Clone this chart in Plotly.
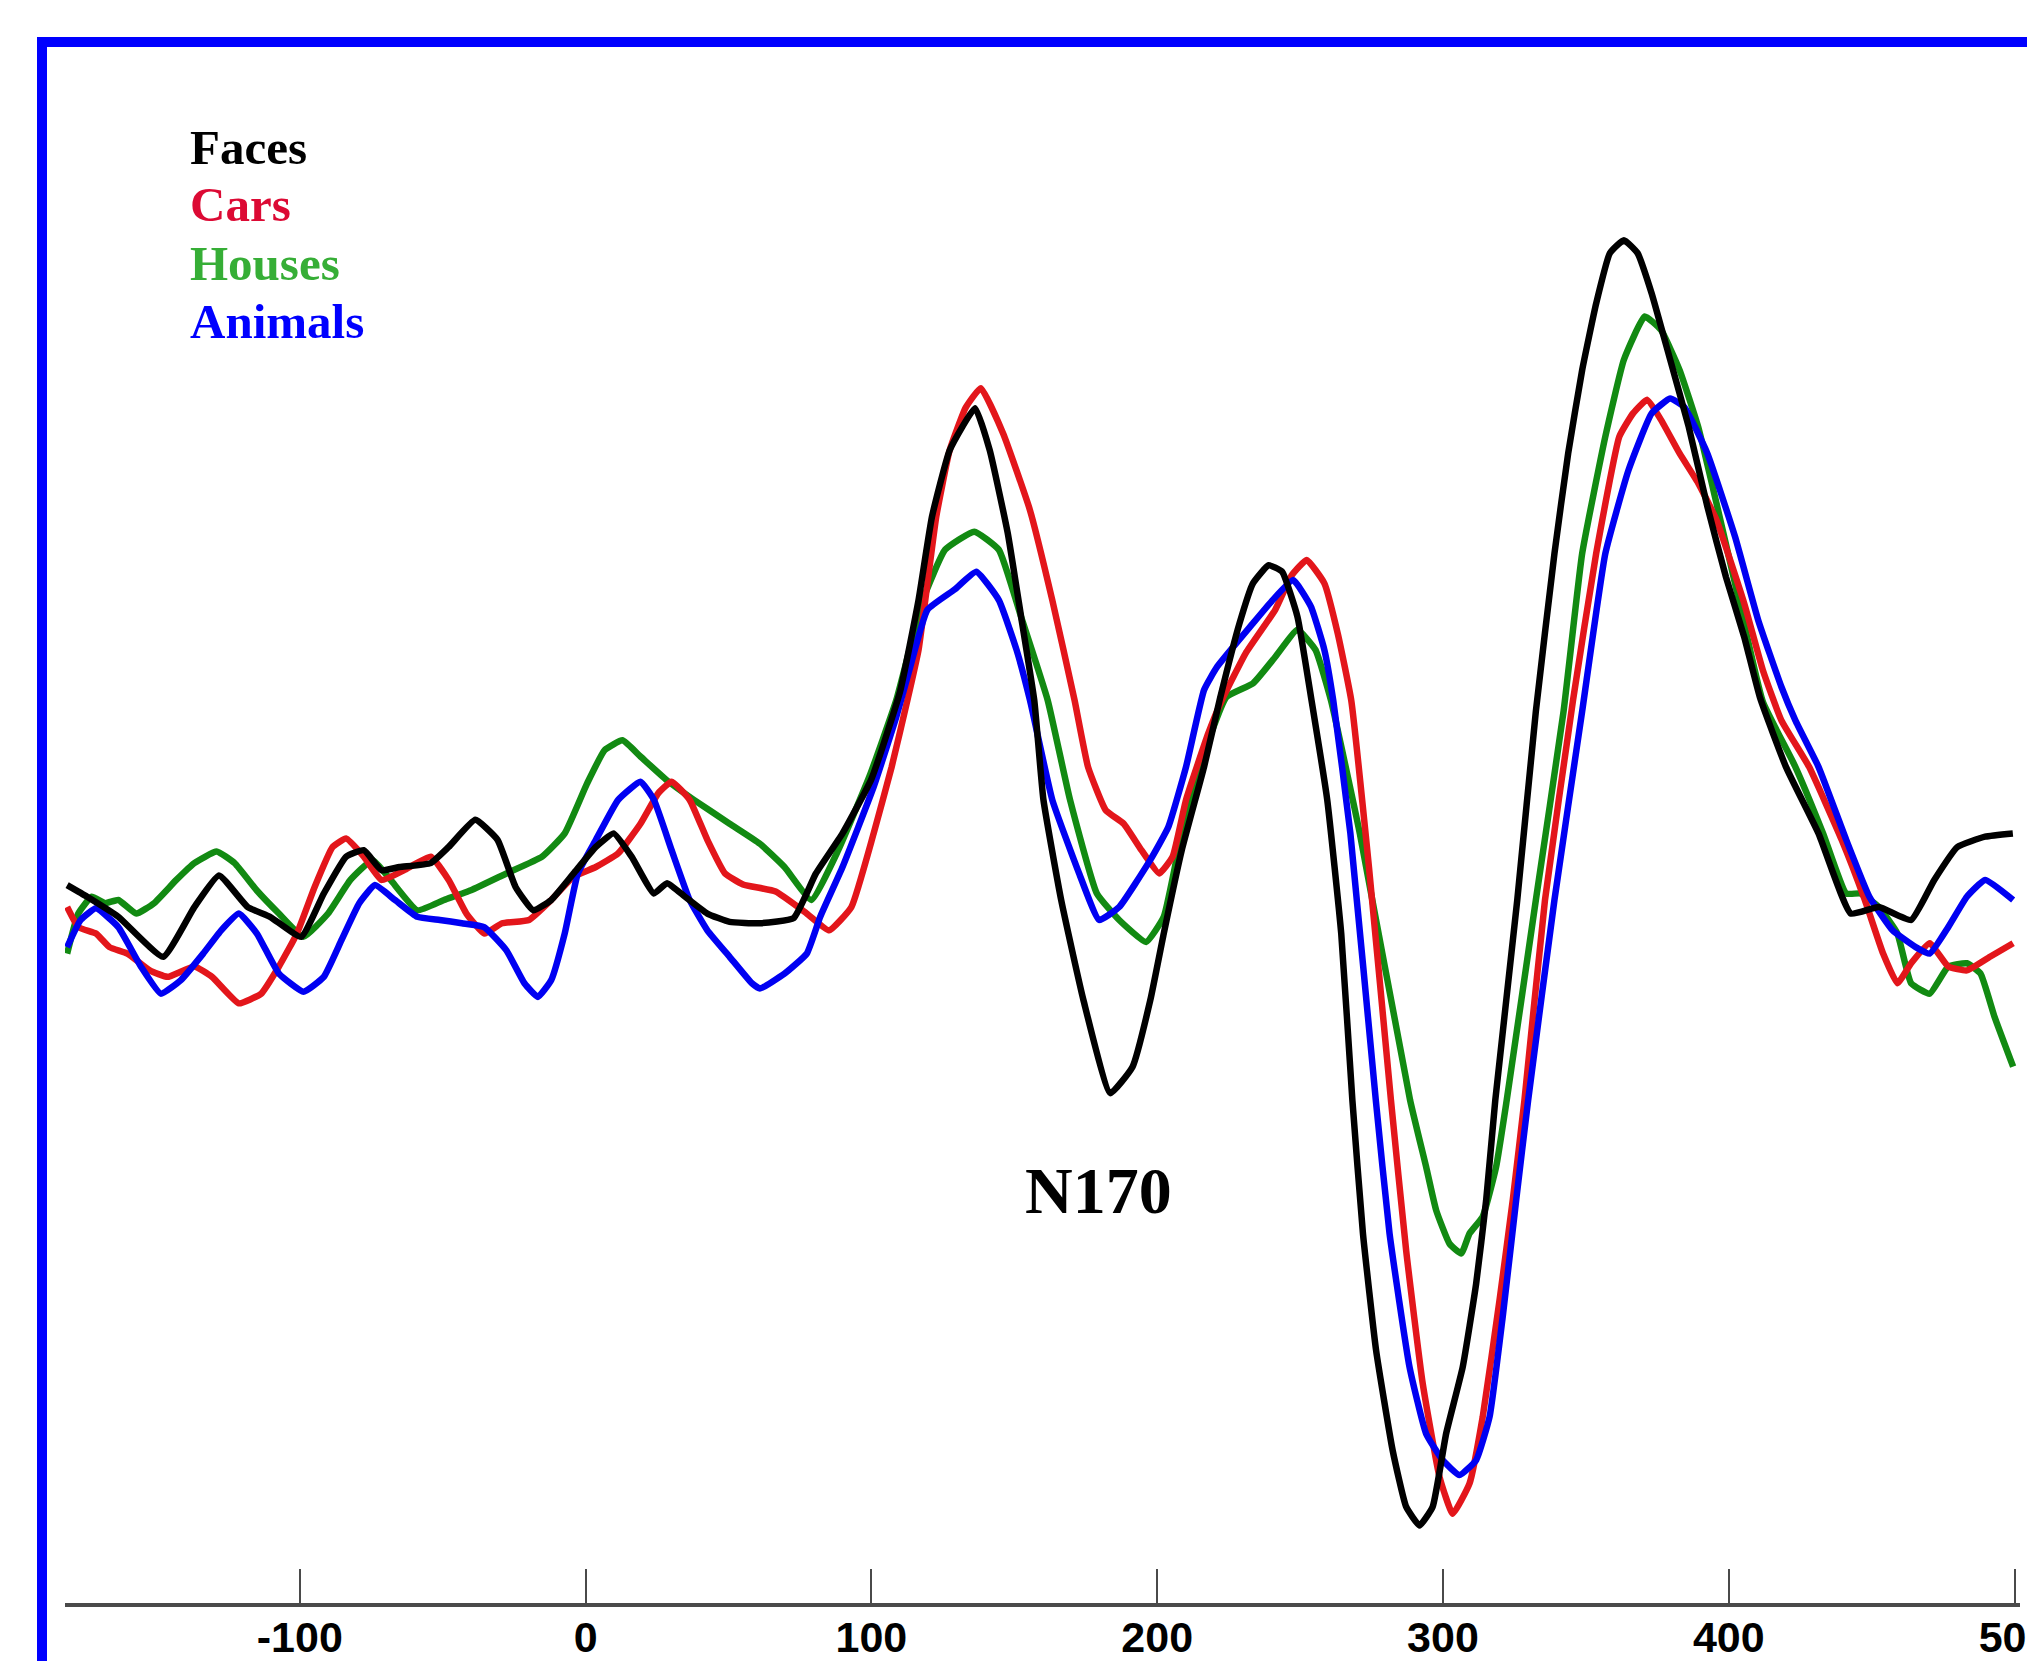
import plotly.graph_objects as go

# ---------------- data (time in ms, amplitude in µV) ----------------
faces_t = [-181.4, -174.4, -163.5, -147.8, -136.9, -128.3, -118.2, -110.4, -99.5, -91.6,
           -83.8, -77.6, -71.4, -65.1, -54.2, -47.9, -38.6, -30.8, -24.5, -18.3,
           -12.0, -4.2, 3.6, 9.8, 16.1, 23.9, 28.5, 34.8, 42.6, 50.4,
           61.0, 72.8, 80.6, 89.9, 100.0, 110.0, 116.5, 121.2, 127.4, 136.3,
           141.4, 147.7, 152.4, 157.0, 160.2, 166.4, 174.2, 183.6, 191.4, 197.6,
           202.3, 208.6, 216.4, 222.0, 228.8, 233.5, 239.0, 243.7, 249.1, 254.0,
           259.5, 264.4, 268.3, 272.0, 276.6, 282.4, 287.1, 291.8, 296.4, 301.1,
           306.9, 311.6, 315.1, 318.3, 326.0, 332.5, 339.0, 343.8, 348.7, 353.6,
           358.4, 363.3, 368.1, 373.0, 379.5, 386.0, 392.5, 399.0, 405.4, 411.0,
           420.0, 431.4, 442.7, 452.5, 463.8, 471.9, 480.0, 489.7, 499.4]
faces_v = [0.31, 0.13, -0.18, -0.80, -0.03, 0.46, -0.03, -0.18, -0.49, 0.18,
           0.75, 0.85, 0.54, 0.59, 0.65, 0.90, 1.32, 1.01, 0.28, -0.08,
           0.08, 0.49, 0.90, 1.11, 0.75, 0.18, 0.34, 0.13, -0.13, -0.26,
           -0.28, -0.20, 0.49, 1.11, 1.95, 3.30, 4.72, 6.01, 7.04, 7.69,
           7.04, 5.76, 4.46, 3.17, 1.63, 0.08, -1.47, -2.91, -2.50, -1.47,
           -0.44, 0.85, 2.14, 3.20, 4.36, 4.98, 5.26, 5.16, 4.46, 3.17,
           1.63, -0.44, -3.02, -5.08, -6.89, -8.44, -9.31, -9.60, -9.31, -8.18,
           -7.15, -5.86, -4.57, -3.02, 0.08, 3.00, 5.44, 6.99, 8.28, 9.31,
           10.09, 10.29, 10.09, 9.47, 8.44, 7.40, 6.17, 5.08, 4.15, 3.20,
           2.14, 1.11, -0.13, -0.03, -0.23, 0.39, 0.90, 1.06, 1.11]

cars_t = [-181.4, -177.5, -171.3, -166.6, -160.3, -152.5, -146.3, -136.9, -130.7, -121.3,
          -113.5, -107.3, -101.0, -94.8, -88.5, -83.8, -77.6, -71.4, -63.6, -54.2,
          -47.9, -41.7, -35.4, -29.2, -19.8, -12.0, -4.2, 3.6, 11.4, 19.2,
          25.4, 30.1, 36.4, 42.6, 48.8, 55.1, 66.5, 77.4, 85.2, 93.0,
          100.8, 107.1, 112.6, 116.5, 122.7, 127.4, 133.0, 138.3, 146.1, 155.5,
          163.3, 171.1, 175.8, 182.0, 188.3, 194.5, 200.7, 205.4, 210.1, 217.9,
          222.6, 231.0, 241.3, 247.0, 252.3, 258.5, 263.2, 267.9, 274.1, 281.8,
          287.1, 292.9, 298.8, 303.4, 309.3, 313.9, 319.8, 324.4, 328.5, 335.7,
          345.5, 353.6, 361.7, 366.5, 371.4, 376.3, 382.8, 389.3, 395.7, 405.4,
          411.9, 418.4, 428.1, 439.5, 447.6, 454.0, 459.0, 463.8, 470.3, 476.8,
          483.3, 491.4, 499.5]
cars_v = [-0.03, -0.34, -0.44, -0.65, -0.75, -1.01, -1.11, -0.95, -1.11, -1.52,
          -1.37, -0.95, -0.44, 0.28, 0.90, 1.03, 0.75, 0.39, 0.54, 0.75,
          0.39, -0.13, -0.44, -0.28, -0.23, 0.08, 0.44, 0.59, 0.80, 1.26,
          1.73, 1.91, 1.63, 1.01, 0.49, 0.32, 0.21, -0.13, -0.39, -0.03,
          1.11, 2.14, 3.17, 3.95, 6.01, 7.04, 7.70, 8.00, 7.30, 6.11,
          4.72, 3.17, 2.14, 1.47, 1.26, 0.85, 0.49, 0.75, 1.63, 2.66,
          3.17, 3.90, 4.57, 5.10, 5.34, 4.98, 4.20, 3.17, 0.59, -3.02,
          -5.34, -7.40, -8.85, -9.42, -8.95, -7.92, -6.11, -4.57, -3.02, 0.08,
          3.17, 5.44, 7.25, 7.61, 7.82, 7.51, 6.99, 6.53, 5.96, 4.67,
          3.64, 2.86, 2.14, 1.01, 0.08, -0.75, -1.21, -0.90, -0.59, -0.95,
          -1.01, -0.80, -0.59]

houses_t = [-181.4, -177.5, -172.8, -168.1, -163.5, -157.2, -151.0, -143.2, -136.9, -129.1,
            -122.8, -115.1, -107.3, -98.7, -90.1, -82.3, -74.5, -68.2, -58.9, -49.5,
            -40.1, -27.7, -15.2, -7.3, 0.5, 6.7, 12.9, 19.2, 28.5, 37.9,
            50.4, 61.0, 69.6, 79.0, 88.4, 99.3, 108.7, 118.0, 125.8, 136.0,
            144.6, 152.4, 161.7, 169.5, 178.9, 186.7, 196.1, 202.3, 208.6, 214.8,
            224.2, 233.5, 241.3, 249.1, 255.4, 260.8, 270.9, 288.5, 294.1, 297.6,
            302.3, 306.4, 309.3, 313.9, 318.6, 322.3, 332.5, 342.2, 348.7, 356.8,
            363.3, 370.6, 376.3, 382.8, 389.3, 395.7, 403.8, 411.9, 423.3, 433.0,
            441.1, 446.0, 452.5, 459.0, 463.8, 470.3, 476.8, 483.3, 488.1, 493.0,
            499.5]
houses_v = [-0.75, -0.13, 0.13, 0.03, 0.08, -0.13, 0.03, 0.39, 0.65, 0.83,
            0.65, 0.23, -0.13, -0.49, -0.13, 0.39, 0.70, 0.39, -0.08, 0.08,
            0.23, 0.49, 0.75, 1.11, 1.88, 2.40, 2.55, 2.30, 1.93, 1.63,
            1.26, 0.95, 0.59, 0.08, 0.85, 1.99, 3.17, 4.72, 5.50, 5.78,
            5.50, 4.46, 3.17, 1.63, 0.18, -0.23, -0.57, -0.18, 1.11, 2.14,
            3.22, 3.43, 3.84, 4.26, 3.95, 3.17, 1.11, -3.02, -4.05, -4.72,
            -5.24, -5.39, -5.08, -4.82, -4.05, -3.02, 0.08, 3.00, 5.44, 7.25,
            8.44, 9.11, 8.90, 8.28, 7.40, 6.22, 4.67, 3.15, 2.14, 1.11,
            0.18, 0.18, -0.03, -0.44, -1.21, -1.37, -0.95, -0.90, -1.06, -1.73,
            -2.50]

animals_t = [-181.4, -176.7, -171.3, -163.5, -155.6, -148.6, -141.6, -133.8, -127.5, -121.3,
             -115.0, -107.3, -98.7, -91.6, -85.4, -79.2, -73.7, -66.7, -58.9, -51.0,
             -43.3, -35.5, -27.7, -21.4, -16.7, -12.0, -7.3, -2.7, 3.6, 11.4,
             19.2, 23.9, 30.1, 36.4, 42.6, 50.4, 58.2, 61.0, 69.6, 77.4,
             82.1, 89.9, 100.8, 108.7, 113.3, 119.6, 129.0, 136.7, 144.6, 150.8,
             155.5, 163.3, 172.7, 179.7, 186.7, 197.6, 203.9, 210.1, 216.4, 221.0,
             233.5, 240.0, 247.6, 253.8, 258.5, 261.6, 267.6, 276.5, 281.3, 288.3,
             294.1, 299.9, 305.8, 311.6, 316.3, 320.9, 325.6, 329.8, 339.0, 348.7,
             356.8, 364.9, 373.0, 379.5, 384.4, 392.5, 402.2, 410.3, 418.4, 423.3,
             431.4, 441.1, 449.2, 457.3, 465.4, 470.3, 476.8, 483.3, 489.7, 499.5]
animals_v = [-0.65, -0.23, -0.05, -0.34, -0.95, -1.37, -1.16, -0.75, -0.39, -0.13,
             -0.44, -1.06, -1.34, -1.11, -0.54, 0.03, 0.31, 0.08, -0.18, -0.23,
             -0.28, -0.34, -0.70, -1.21, -1.42, -1.16, -0.44, 0.49, 1.01, 1.63,
             1.91, 1.63, 0.85, 0.08, -0.39, -0.80, -1.21, -1.29, -1.06, -0.75,
             -0.18, 0.59, 1.83, 2.91, 3.64, 4.57, 4.88, 5.16, 4.72, 3.95,
             3.17, 1.63, 0.49, -0.23, -0.03, 0.70, 1.21, 2.14, 3.33, 3.69,
             4.36, 4.70, 5.03, 4.62, 3.95, 3.17, 1.11, -3.02, -5.08, -7.15,
             -8.18, -8.59, -8.82, -8.59, -7.92, -6.37, -4.57, -3.02, 0.08, 3.00,
             5.44, 6.73, 7.61, 7.84, 7.71, 6.99, 5.70, 4.41, 3.38, 2.86,
             2.14, 1.01, 0.13, -0.39, -0.65, -0.75, -0.34, 0.13, 0.39, 0.08]

series_names = ["Faces", "Cars", "Houses", "Animals"]
line_colors = {"Faces": "#000000", "Cars": "#E3161B", "Houses": "#128A12", "Animals": "#0000F2"}
label_colors = {"Faces": "#000000", "Cars": "#DC0A34", "Houses": "#36AE36", "Animals": "#0000FF"}
tick_values = [-100, 0, 100, 200, 300, 400, 500]
tick_labels = ["-100", "0", "100", "200", "300", "400", "500"]

data = {"Faces": (faces_t, faces_v), "Cars": (cars_t, cars_v),
        "Houses": (houses_t, houses_v), "Animals": (animals_t, animals_v)}

# ---------------- figure ----------------
W, H = 2027, 1661
ML, MR, MT, MB = 65, 7, 47, 58
X_RANGE = [-182.15, 501.9]
Y_RANGE = [-10.80, 13.28]

fig = go.Figure()
for name in ["Houses", "Cars", "Animals", "Faces"]:
    t, v = data[name]
    fig.add_trace(go.Scatter(
        x=t, y=v, mode="lines", name=name,
        line=dict(color=line_colors[name], width=6.5, shape="spline", smoothing=0.4),
        showlegend=False, hoverinfo="skip"))

plot_w = W - ML - MR
plot_h = H - MT - MB

def px_to_paper_x(px):
    return (px - ML) / plot_w

def px_to_paper_y(py):
    return (H - MB - py) / plot_h

# category labels (text legend)
label_y_px = {"Faces": 147.5, "Cars": 205, "Houses": 263.5, "Animals": 321}
for name in series_names:
    fig.add_annotation(
        x=px_to_paper_x(188), y=px_to_paper_y(label_y_px[name]),
        xref="paper", yref="paper", xanchor="left", yanchor="middle",
        text=name, showarrow=False,
        font=dict(family="Liberation Serif, Times New Roman, serif", size=49,
                  color=label_colors[name], weight="bold"))

# N170 label
fig.add_annotation(
    x=179.6, y=-4.41, xref="x", yref="y", xanchor="center", yanchor="middle",
    text="N170", showarrow=False,
    font=dict(family="Liberation Serif, Times New Roman, serif", size=66,
              color="#000000", weight="bold"))

# blue frame (top and left edges visible)
fig.add_shape(type="rect", xref="paper", yref="paper",
              x0=px_to_paper_x(42), y0=-0.2, x1=1.2, y1=px_to_paper_y(42),
              line=dict(color="#0000FF", width=10), fillcolor="rgba(0,0,0,0)",
              layer="above")

fig.update_layout(
    width=W, height=H,
    margin=dict(l=ML, r=MR, t=MT, b=MB, pad=0, autoexpand=False),
    paper_bgcolor="white", plot_bgcolor="white",
    xaxis=dict(range=X_RANGE, showgrid=False, zeroline=False, automargin=False,
               showline=True, linecolor="#4a4a4a", linewidth=4,
               ticks="inside", ticklen=34, tickwidth=2, tickcolor="#4a4a4a",
               tickvals=tick_values, ticktext=tick_labels,
               ticklabeloverflow="allow", ticklabelstandoff=-7,
               tickfont=dict(family="Liberation Sans Narrow, Arial Narrow, Liberation Sans, sans-serif",
                             size=43, color="#000000", weight="bold"),
               fixedrange=True),
    yaxis=dict(range=Y_RANGE, visible=False, showgrid=False, zeroline=False,
               automargin=False, fixedrange=True),
)

fig.write_html("out.html")
